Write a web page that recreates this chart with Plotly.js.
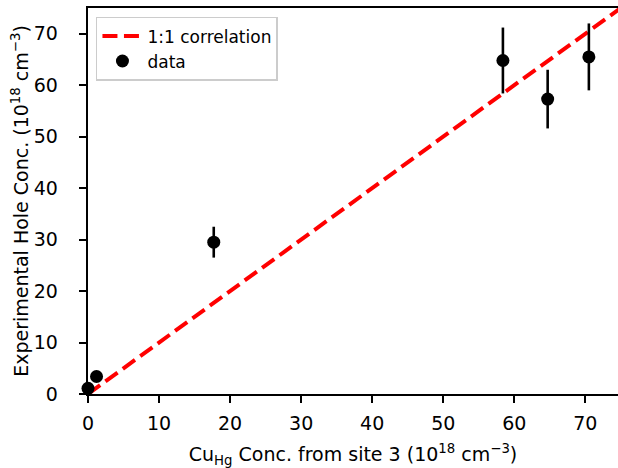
<!DOCTYPE html>
<html><head><meta charset="utf-8">
<script src="https://cdn.plot.ly/plotly-3.0.1.min.js"></script>
<style>html,body{margin:0;padding:0;background:#fff}</style>
</head><body>
<div id="chart" style="width:618px;height:468px"></div>
<script>
const lineX = [0, 80];
const lineY = [0, 80];
const cuConc = [0, 1.2, 17.7, 58.4, 64.7, 70.5];
const holeConc = [1.1, 3.4, 29.5, 64.8, 57.3, 65.5];
const holeErr = [0.3, 0.6, 3.0, 6.4, 5.7, 6.5];
const xTicks = [0, 10, 20, 30, 40, 50, 60, 70];
const yTicks = [0, 10, 20, 30, 40, 50, 60, 70];

const font = {family: 'DejaVu Sans', size: 19, color: '#000'};
const traces = [
  {x: lineX, y: lineY, mode: 'lines', name: '1:1 correlation',
   line: {color: '#ff0000', width: 4, dash: '15px,6.5px'}},
  {x: cuConc, y: holeConc, mode: 'markers', name: 'data', cliponaxis: false,
   marker: {color: '#000', size: 13},
   error_y: {type: 'data', array: holeErr, visible: true, color: '#000', thickness: 2.6, width: 0}}
];
const layout = {
  width: 618, height: 468,
  margin: {l: 88, r: 0, t: 8, b: 74},
  paper_bgcolor: '#fff', plot_bgcolor: '#fff',
  font: font,
  showlegend: true,
  legend: {x: 0.015, y: 0.977, xanchor: 'left', yanchor: 'top',
    bgcolor: 'rgba(255,255,255,0.8)', bordercolor: '#cccccc', borderwidth: 1.5,
    itemwidth: 40, tracegroupgap: 0,
    font: {family: 'DejaVu Sans', size: 17, color: '#000'}},
  xaxis: {range: [0, 74.6], tickvals: xTicks, ticktext: xTicks.map(String),
    showgrid: false, zeroline: false, showline: true, linecolor: '#000', linewidth: 2,
    mirror: true, ticks: 'outside', ticklen: 7, tickwidth: 2, tickcolor: '#000',
    ticklabelposition: 'outside', ticklabelstandoff: 4,
    tickfont: font,
    title: {text: 'Cu<sub>Hg</sub> Conc. from site 3 (10<sup>18</sup> cm<sup>\u22123</sup>)', font: font, standoff: 20}},
  yaxis: {range: [0, 75], tickvals: yTicks, ticktext: yTicks.map(v => String(v) + '\u2004'),
    showgrid: false, zeroline: false, showline: true, linecolor: '#000', linewidth: 2,
    ticks: 'outside', ticklen: 7, tickwidth: 2, tickcolor: '#000',
    ticklabelposition: 'outside', ticklabelstandoff: 11,
    tickfont: font,
    title: {text: 'Experimental Hole Conc. (10<sup>18</sup> cm<sup>\u22123</sup>)', font: font, standoff: 0}}
};
Plotly.newPlot('chart', traces, layout, {displayModeBar: false, staticPlot: true});
</script>
</body></html>
